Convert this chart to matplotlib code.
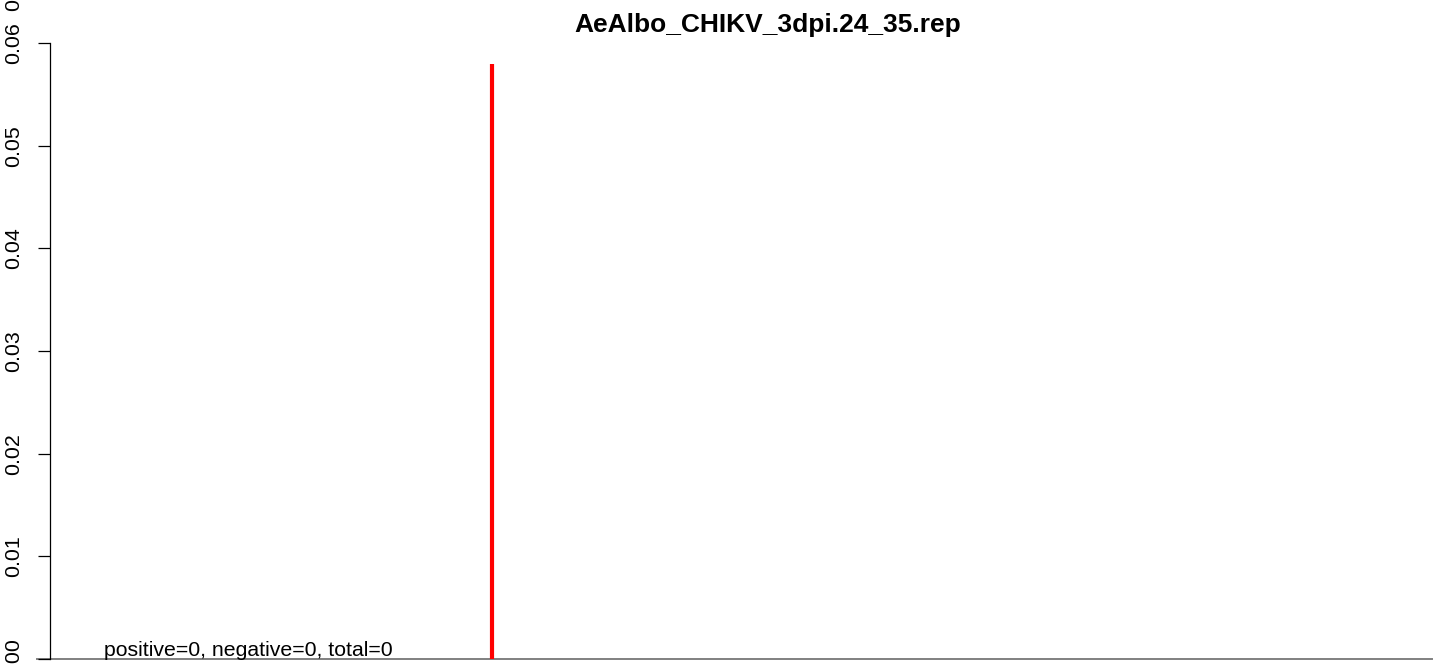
"""Coverage trace for a single replicate, R base-graphics look."""

import matplotlib

matplotlib.use("Agg")
import matplotlib.pyplot as plt

plt.rcParams["font.family"] = ["Liberation Sans", "DejaVu Sans"]

TITLE = "AeAlbo_CHIKV_3dpi.24_35.rep"
peak_pos = [292]
peak_val = [0.058]
x_range = (0, 1000)
y_ticks = [0.00, 0.01, 0.02, 0.03, 0.04, 0.05, 0.06]
y_labels = ["0.00", "0.01", "0.02", "0.03", "0.04", "0.05", "0.06"]
counts = {"positive": 0, "negative": 0, "total": 0}

W, H = 1439, 666
fig = plt.figure(figsize=(W / 100, H / 100), dpi=100)
left, right, top, bottom = 104, 1432, 43, 659
ax = fig.add_axes([left / W, 1 - bottom / H, (right - left) / W, (bottom - top) / H])
ax.set_xlim(*x_range)
ax.set_ylim(0, 0.06)

for s in ["top", "right", "bottom"]:
    ax.spines[s].set_visible(False)
ax.spines["left"].set_position(("axes", (50 - left) / (right - left)))
ax.spines["left"].set_bounds(0, 0.06)
ax.spines["left"].set_linewidth(0.9)
ax.set_xticks([])
ax.set_yticks(y_ticks)
ax.set_yticklabels(y_labels, rotation=90, va="center", fontsize=15.4)
ax.tick_params(axis="y", length=9, width=0.9, pad=10)

# baseline runs out past the plot region to the left
ax.axhline(0, xmin=-(left - 37) / (right - left), xmax=1, color="#808080",
           lw=1.4, clip_on=False, zorder=1)
ax.vlines(peak_pos, 0, peak_val, color="red", lw=3, clip_on=False, zorder=2)

label = ", ".join(f"{k}={v}" for k, v in counts.items())
ax.text(x_range[0], 0.0003, label, fontsize=15.3, ha="left", va="baseline", zorder=3)

fig.text(768 / W, 1 - 32 / H, TITLE, fontsize=19, fontweight="bold",
         ha="center", va="baseline")
# clipped label peeking in at the top edge
fig.text(14 / W, 1 - 5 / H, "0", fontsize=15.4, rotation=90, ha="center", va="center")

fig.savefig("out.png", dpi=100)
